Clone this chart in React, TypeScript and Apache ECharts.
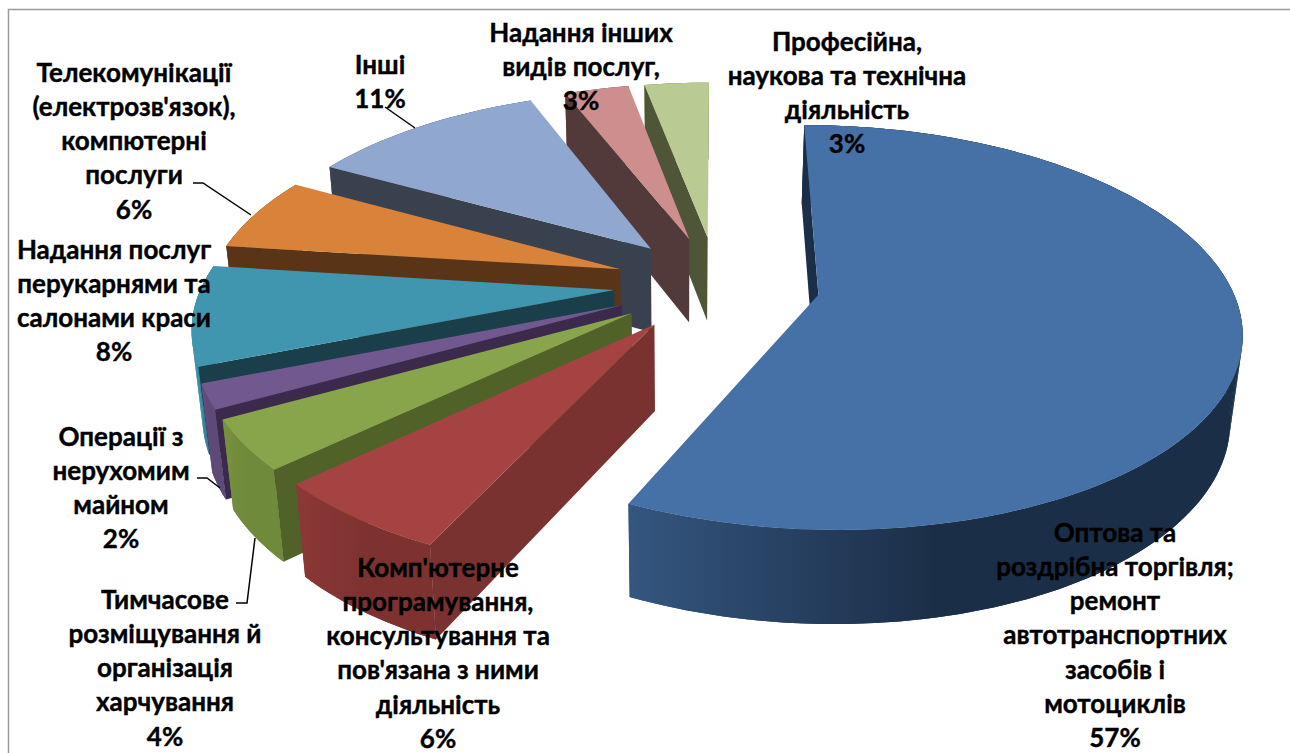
import React, { useEffect, useRef } from "react";
import * as echarts from "echarts";

const categories = [
  "Оптова та\nроздрібна торгівля;\nремонт\nавтотранспортних\nзасобів і\nмотоциклів",
  "Комп'ютерне\nпрограмування,\nконсультування та\nпов'язана з ними\nдіяльність",
  "Тимчасове\nрозміщування й\nорганізація\nхарчування",
  "Операції з\nнерухомим\nмайном",
  "Надання послуг\nперукарнями та\nсалонами краси",
  "Телекомунікації\n(електрозв'язок),\nкомпютерні\nпослуги",
  "Інші",
  "Надання інших\nвидів послуг,",
  "Професійна,\nнаукова та технічна\nдіяльність",
];
const values = [57, 6, 4, 2, 8, 6, 11, 3, 3];
const percentLabels = ["57%", "6%", "4%", "2%", "8%", "6%", "11%", "3%", "3%"];

const topColors = ["#4671A6", "#A54342", "#88A54B", "#71588F", "#4196AF", "#D8823A", "#90A8CF", "#CD8E8D", "#B9CB93"];
const radialColors = ["#1B2E47", "#7A3230", "#516229", "#3B2A4C", "#1A3F4A", "#5A3417", "#39414F", "#533A3A", "#4F5638"];
const outerColorsA = ["#34567F", "#8C3836", "#76923F", "#644E80", "#3D8EA5", "#A86A30", "#5C7299", "#9A6A69", "#8A9A6E"];
const outerColorsB = ["#1B2E47", "#7E3230", "#6E8A3A", "#5E4A78", "#37859C", "#A06428", "#566C92", "#946464", "#849468"];

// label anchor: centre x, centre y of first line
const labelX = [1115, 438, 165, 121, 114, 134, 380, 581, 847];
const labelY = [531.5, 566.5, 598.5, 435.5, 248.5, 71.5, 63.5, 31.5, 40.5];

const leaderLines = [
  [[193, 183], [203, 183], [251, 215]],
  [[197, 478], [207, 478], [220, 488]],
  [[236, 603], [247, 603], [255, 538]],
  [[385, 107], [415, 128]],
];

const X0 = 717, CY = 284, RADIUS = 412, EXPLODE = 103, TILT = 0.47, PERSP = 2560;
const DEPTH = 85, LEAN_X = 680, LEAN = 0.023;
const FONT = "Lato";
const FONT_SIZE = 26;
const LINE_H = 34.3;

const rad = (d: number) => (d * Math.PI) / 180;

function topPoint(X: number, V: number) {
  const s = PERSP / (PERSP + V);
  return [X0 + X * s, CY - V * TILT * s, s];
}
function bottomOf(p: number[]) {
  const m = DEPTH * Math.pow(p[2], 0.55);
  return [p[0] + (LEAN_X - p[0]) * LEAN * (m / 90), p[1] + m];
}
const area = (pts: number[][]) => {
  let a = 0;
  for (let i = 0; i < pts.length; i++) {
    const q = pts[(i + 1) % pts.length];
    a += pts[i][0] * q[1] - q[0] * pts[i][1];
  }
  return a;
};

const total = values.reduce((a, b) => a + b, 0);

const renderItem = (params: any, api: any) => {
  const i = params.dataIndex;
  let before = 0;
  for (let k = 0; k < i; k++) before += values[k];
  const a0 = (before / total) * 360;
  const a1 = ((before + api.value(0)) / total) * 360;
  const mid = (a0 + a1) / 2;
  const ax = EXPLODE * Math.sin(rad(mid));
  const av = EXPLODE * Math.cos(rad(mid));
  const apex = topPoint(ax, av);
  const rim: number[][] = [];
  const steps = Math.max(4, Math.ceil((a1 - a0) / 1.5));
  for (let n = 0; n <= steps; n++) {
    const a = rad(a0 + ((a1 - a0) * n) / steps);
    rim.push(topPoint(ax + RADIUS * Math.sin(a), av + RADIUS * Math.cos(a)));
  }
  const rimB = rim.map(bottomOf);
  const apexB = bottomOf(apex);
  const z = Math.round((1 - Math.cos(rad(mid))) * 100) * 10;
  const xy = (p: number[]) => [p[0], p[1]];
  const children: any[] = [];

  const xs = rim.map((p) => p[0]);
  const minX = Math.min(...xs), maxX = Math.max(...xs);
  const wallFill = new echarts.graphic.LinearGradient(minX, 0, maxX, 0, [
    { offset: 0, color: outerColorsA[i] },
    { offset: 0.5, color: outerColorsB[i] },
    { offset: 1, color: outerColorsB[i] },
  ], true);
  children.push({
    type: "polygon",
    z2: z,
    shape: { points: [...rim.map(xy), ...rimB.slice().reverse()] },
    style: { fill: wallFill },
  });
  for (let n = 0; n < rim.length - 1; n++) {
    children.push({
      type: "polygon",
      z2: z,
      shape: { points: [xy(rim[n]), xy(rim[n + 1]), rimB[n + 1], rimB[n]] },
      style: { fill: wallFill },
    });
  }
  const startWall = [xy(apex), xy(rim[0]), rimB[0], apexB];
  const last = rim.length - 1;
  const endWall = [xy(apex), xy(rim[last]), rimB[last], apexB];
  if (area(startWall) < 0) {
    children.push({ type: "polygon", z2: z + 1, shape: { points: startWall }, style: { fill: radialColors[i] } });
  }
  if (area(endWall) > 0) {
    children.push({ type: "polygon", z2: z + 1, shape: { points: endWall }, style: { fill: radialColors[i] } });
  }
  children.push({
    type: "polygon",
    z2: z + 2,
    shape: { points: [xy(apex), ...rim.map(xy)] },
    style: { fill: topColors[i] },
  });
  return { type: "group", children };
};

export default function App() {
  const ref = useRef<HTMLDivElement>(null);
  useEffect(() => {
    const chart = echarts.init(ref.current!, null, { renderer: "svg" });
    const texts = categories.map((c, i) => ({
      type: "text",
      z: 100,
      style: {
        text: c + "\n" + percentLabels[i],
        x: labelX[i],
        y: labelY[i] - LINE_H / 2,
        textAlign: "center",
        textVerticalAlign: "top",
        verticalAlign: "top",
        fontFamily: FONT,
        fontWeight: "bold",
        fontSize: FONT_SIZE,
        lineHeight: LINE_H,
        fill: "#000",
        stroke: "#000",
        lineWidth: 0.4,
      },
    }));
    const lines = leaderLines.map((pts) => ({
      type: "polyline",
      z: 99,
      shape: { points: pts },
      style: { stroke: "#000", lineWidth: 1.5, fill: "none" },
    }));
    chart.setOption({
      animation: false,
      backgroundColor: "#fff",
      graphic: [
        { type: "rect", z: -1, shape: { x: 8.5, y: 9.5, width: 1400, height: 900 }, style: { fill: "#fff", stroke: "#9a9a9a", lineWidth: 1.5 } },
        ...lines,
        ...texts,
      ],
      series: [
        {
          type: "custom",
          coordinateSystem: "none",
          renderItem,
          data: values.map((v, i) => ({ name: categories[i], value: [v] })),
        },
      ],
    });
    return () => chart.dispose();
  }, []);
  return <div ref={ref} style={{ position: "fixed", left: 0, top: 0, width: 1290, height: 753 }} />;
}
